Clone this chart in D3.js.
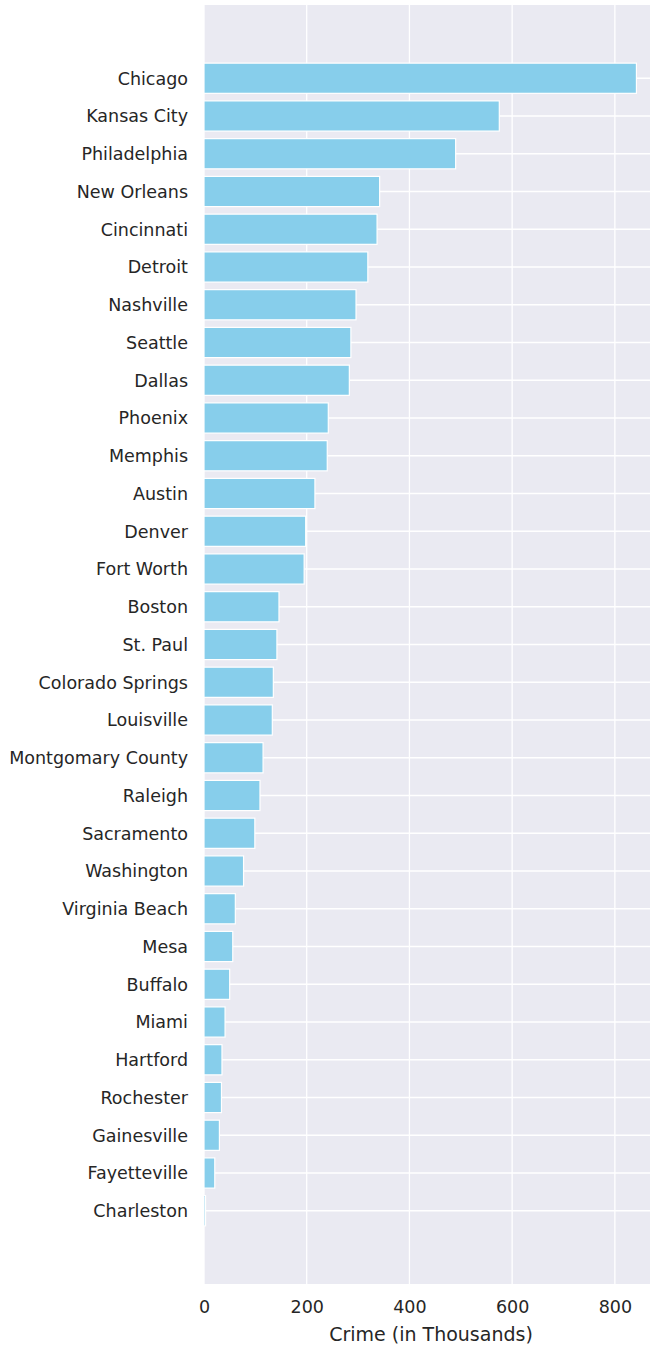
<!DOCTYPE html>
<html>
<head>
<meta charset="utf-8">
<script src="https://cdn.jsdelivr.net/npm/d3@7"></script>
<style>
  body { margin: 0; background: #fff; }
  svg text { font-family: "DejaVu Sans", sans-serif; fill: #262626; }
</style>
</head>
<body>
<svg id="chart-svg" width="650" height="1345"></svg>
<script>
const cities = ["Chicago", "Kansas City", "Philadelphia", "New Orleans", "Cincinnati", "Detroit",
  "Nashville", "Seattle", "Dallas", "Phoenix", "Memphis", "Austin", "Denver", "Fort Worth",
  "Boston", "St. Paul", "Colorado Springs", "Louisville", "Montgomary County", "Raleigh",
  "Sacramento", "Washington", "Virginia Beach", "Mesa", "Buffalo", "Miami", "Hartford",
  "Rochester", "Gainesville", "Fayetteville", "Charleston"];
const crime = [842, 575, 490, 342, 337, 319, 296, 286, 283, 242, 240, 216, 198, 195,
  146, 142, 135, 133, 115, 109, 99, 77, 61, 56, 50, 41, 35, 34, 30, 21, 3];
const xTicks = [0, 200, 400, 600, 800];

const data = cities.map((c, i) => ({ city: c, value: crime[i] }));

// plot box, the right part is cut off by the window like in the original
const plot = { left: 204, right: 658, top: 5, bottom: 1284 };
const barHeight = 0.8;
const n = data.length;

const svg = d3.select("#chart-svg");

const x = d3.scaleLinear().domain([0, 884]).range([plot.left, plot.right]);
const pad = (n - 1 + barHeight) * 0.05;
const y = d3.scaleLinear()
  .domain([-barHeight / 2 - pad, n - 1 + barHeight / 2 + pad])
  .range([plot.top, plot.bottom]);

svg.append("rect")
  .attr("x", plot.left).attr("y", plot.top)
  .attr("width", plot.right - plot.left).attr("height", plot.bottom - plot.top)
  .attr("fill", "#EAEAF2");

// grid
svg.append("g").selectAll("line").data(xTicks).join("line")
  .attr("x1", d => x(d)).attr("x2", d => x(d))
  .attr("y1", plot.top).attr("y2", plot.bottom)
  .attr("stroke", "#fff").attr("stroke-width", 1.3);
svg.append("g").selectAll("line").data(data).join("line")
  .attr("x1", plot.left).attr("x2", plot.right)
  .attr("y1", (d, i) => y(i)).attr("y2", (d, i) => y(i))
  .attr("stroke", "#fff").attr("stroke-width", 1.3);

// bars
svg.append("g").selectAll("rect").data(data).join("rect")
  .attr("x", x(0))
  .attr("y", (d, i) => y(i - barHeight / 2))
  .attr("width", d => x(d.value) - x(0))
  .attr("height", y(barHeight) - y(0))
  .attr("fill", "#87CEEB")
  .attr("stroke", "#fff").attr("stroke-width", 1.2);

// y tick labels
svg.append("g").selectAll("text").data(data).join("text")
  .attr("x", plot.left - 16)
  .attr("y", (d, i) => y(i))
  .attr("dy", "0.36em")
  .attr("text-anchor", "end")
  .style("font-size", "17.5px")
  .text(d => d.city);

// x axis
const xAxis = svg.append("g")
  .attr("transform", `translate(0, ${plot.bottom})`)
  .call(d3.axisBottom(x).tickValues(xTicks).tickSize(0).tickPadding(17));
xAxis.select(".domain").remove();
xAxis.selectAll("text")
  .style("font-family", "DejaVu Sans, sans-serif")
  .style("font-size", "17.5px")
  .attr("fill", "#262626");

svg.append("text")
  .attr("x", (plot.left + plot.right) / 2)
  .attr("y", 1341)
  .attr("text-anchor", "middle")
  .style("font-size", "19px")
  .text("Crime (in Thousands)");
</script>
</body>
</html>
